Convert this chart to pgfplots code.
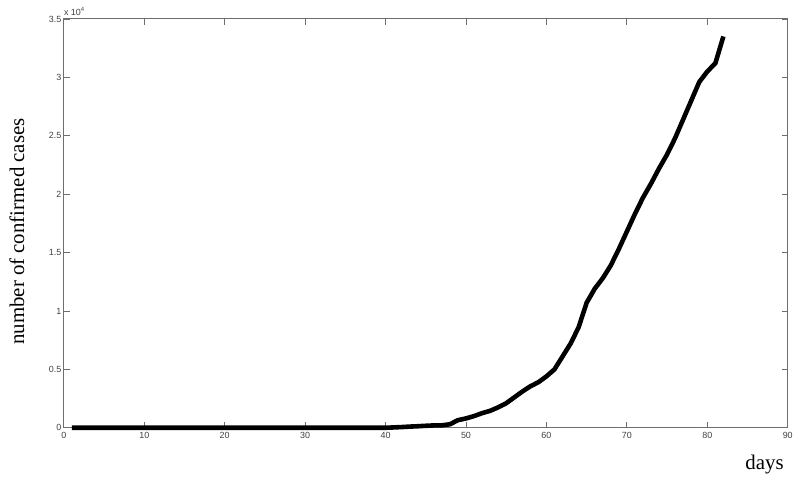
\documentclass[border=0pt]{standalone}
\usepackage{fontspec}
\setmainfont{Liberation Serif}
\newfontfamily\arial{Liberation Sans}
\usepackage{pgfplots}
\pgfplotsset{compat=1.18}
\definecolor{axgray}{HTML}{6E6E6E}

\begin{document}
\begin{tikzpicture}
\begin{axis}[
    scale only axis,
    width=726bp, height=410bp,
    xmin=0, xmax=90, ymin=0, ymax=35000,
    xtick={0,10,...,90},
    ytick={0,5000,...,35000},
    yticklabels={0,0.5,1,1.5,2,2.5,3,3.5},
    scaled y ticks=false,
    /pgf/number format/assume math mode=true,
    tick align=inside,
    major tick length=6bp,
    axis line style={axgray, line width=1bp},
    every tick/.style={axgray, line width=0.8bp},
    ticklabel style={font=\arial\fontsize{9}{10}\selectfont, text=black!75},
    xticklabel style={yshift=-1bp},
    yticklabel style={xshift=1bp},
    xlabel={days},
    ylabel={number of confirmed cases},
    label style={font=\fontsize{21}{24}\selectfont, inner sep=0pt},
    xlabel style={at={(rel axis cs:0.968,0)}, anchor=center, yshift=-37bp},
    ylabel style={at={(rel axis cs:0,0.48)}, anchor=center, yshift=47bp},
    clip=false,
]
\addplot[black, line width=4.6bp, line join=round] coordinates {
    (1,0) (2,0) (3,0) (4,0) (5,0) (6,0) (7,0) (8,0) (9,0) (10,0)
    (11,0) (12,0) (13,0) (14,0) (15,0) (16,0) (17,0) (18,0) (19,0) (20,0)
    (21,0) (22,0) (23,0) (24,0) (25,0) (26,0) (27,0) (28,0) (29,0) (30,0)
    (31,0) (32,0) (33,0) (34,0) (35,0) (36,0) (37,0) (38,0) (39,0) (40,0)
    (41,30) (42,60) (43,100) (44,130) (45,170) (46,200) (47,210) (48,300)
    (49,650) (50,800) (51,1000) (52,1250) (53,1450) (54,1750) (55,2100)
    (56,2600) (57,3100) (58,3550) (59,3900) (60,4400) (61,5000) (62,6100)
    (63,7200) (64,8600) (65,10700) (66,11900) (67,12800) (68,13900)
    (69,15300) (70,16800) (71,18300) (72,19700) (73,20900) (74,22200)
    (75,23400) (76,24800) (77,26400) (78,28000) (79,29600) (80,30500)
    (81,31200) (82,33500)
};
\node[anchor=south west, inner sep=0pt, font=\arial\fontsize{9}{10}\selectfont, text=black!75]
    at (rel axis cs:0,1) [yshift=3bp] {x 10\textsuperscript{4}};
\end{axis}
\path (current axis.south west) +(-64bp,-50bp) (current axis.north east) +(6bp,19bp);
\end{tikzpicture}
\end{document}
